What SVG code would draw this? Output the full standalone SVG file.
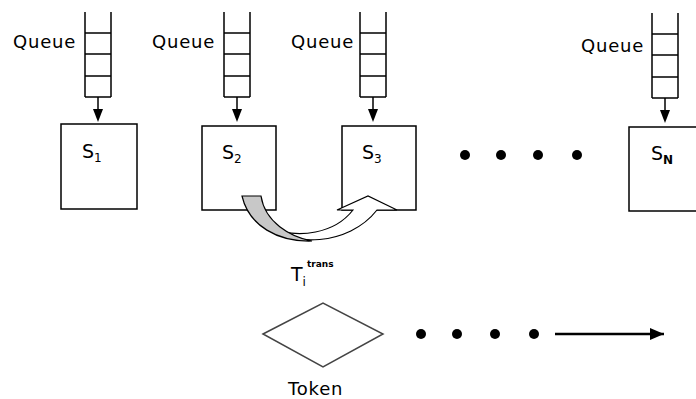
<svg xmlns="http://www.w3.org/2000/svg" width="696" height="399" viewBox="0 0 696 399">
<style>
  .ln{stroke:#000;stroke-width:1.5;fill:none}
  .box{fill:#fff;stroke:#000;stroke-width:1.5}
  .q{font-family:"DejaVu Sans",Verdana,sans-serif;font-size:18px;letter-spacing:0.8px;fill:#000}
  .s{font-family:"DejaVu Sans",Verdana,sans-serif;font-size:19px;fill:#000}
  .sub{font-size:12px;fill:#000}
  .dot{fill:#000}
</style>
<defs>
  <marker id="ah" viewBox="0 0 14 12" refX="14" refY="6" markerWidth="14" markerHeight="12" markerUnits="userSpaceOnUse" orient="auto">
    <path d="M0,0 L14,6 L0,12 Z" fill="#000"/>
  </marker>
  <g id="ladder">
    <path class="ln" d="M0,0 V85 M26,0 V85 M0,21 H26 M0,42 H26 M0,64 H26 M0,85 H26"/>
    <path d="M13,85 V97" class="ln"/>
    <path d="M8,97 L18,97 L13,110 Z" fill="#000"/>
  </g>
</defs>

<g id="node-s1">
  <use href="#ladder" x="85" y="12"/>
  <text class="q" x="13" y="48">Queue</text>
  <rect class="box" x="61" y="124" width="76" height="85"/>
  <text class="s" x="82" y="158">S<tspan class="sub" dy="4">1</tspan></text>
</g>
<g id="node-s2">
  <use href="#ladder" x="224" y="12"/>
  <text class="q" x="152" y="48">Queue</text>
  <rect class="box" x="202" y="126" width="74" height="84"/>
  <text class="s" x="222" y="159">S<tspan class="sub" dy="4">2</tspan></text>
</g>
<g id="node-s3">
  <use href="#ladder" x="360" y="12"/>
  <text class="q" x="291" y="48">Queue</text>
  <rect class="box" x="342" y="126" width="74" height="84"/>
  <text class="s" x="362" y="159">S<tspan class="sub" dy="4">3</tspan></text>
</g>
<g id="node-sn">
  <use href="#ladder" x="652" y="13"/>
  <text class="q" x="581" y="52">Queue</text>
  <rect class="box" x="629" y="127" width="80" height="84"/>
  <text class="s" x="651" y="160">S<tspan class="sub" dy="4" font-weight="bold">N</tspan></text>
</g>

<g id="dots-top">
  <circle class="dot" cx="465" cy="155" r="5"/>
  <circle class="dot" cx="501" cy="155" r="5"/>
  <circle class="dot" cx="538" cy="155" r="5"/>
  <circle class="dot" cx="577" cy="155" r="5"/>
</g>

<g id="connectors">
  <path d="M266,227 C290,246 348,247 377,210 L397,210 L368,196 L337,210 L353,210 C335,233 300,240 266,227 Z" fill="#fff" stroke="#000" stroke-width="1.2"/>
  <path d="M242,196 L261,196 C265,222 290,237 312,241 C278,242 249,226 242,196 Z" fill="#c8c8c8" stroke="#000" stroke-width="1.2"/>
  <line x1="555" y1="334" x2="664" y2="334" stroke="#000" stroke-width="2.5" marker-end="url(#ah)"/>
</g>

<g id="label-t">
  <text class="s" x="291" y="281">T<tspan class="sub" dy="5">i</tspan><tspan font-size="9" font-weight="bold" fill="#000" dx="1" dy="-19">trans</tspan></text>
</g>

<g id="node-token">
  <polygon points="263,334 323,303 383,334 323,367" fill="#fff" stroke="#444" stroke-width="1.5"/>
  <text class="q" x="288" y="395">Token</text>
</g>

<g id="dots-bottom">
  <circle class="dot" cx="421" cy="334" r="5"/>
  <circle class="dot" cx="457" cy="334" r="5"/>
  <circle class="dot" cx="495" cy="334" r="5"/>
  <circle class="dot" cx="534" cy="334" r="5"/>
</g>
</svg>
